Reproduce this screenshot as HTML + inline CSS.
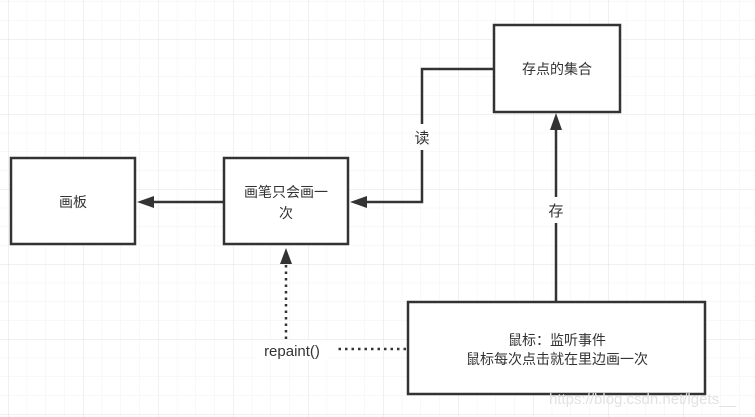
<!DOCTYPE html>
<html><head><meta charset="utf-8"><style>
html,body{margin:0;padding:0;background:#fff}
svg{display:block}
text{font-family:"Liberation Sans","Noto Sans CJK SC",sans-serif;fill:#333}
</style></head><body>
<svg width="755" height="417" xmlns="http://www.w3.org/2000/svg">
<defs>
<pattern id="minor" x="8" y="-36" width="18.75" height="18.75" patternUnits="userSpaceOnUse">
<path d="M0 0H18.75M0 0V18.75" stroke="#f0f0f0" stroke-width="1" fill="none"/>
</pattern>
<pattern id="major" x="8" y="-36" width="75" height="75" patternUnits="userSpaceOnUse">
<path d="M0 0H75M0 0V75" stroke="#e2e2e2" stroke-width="1" fill="none"/>
</pattern>
</defs>
<rect width="755" height="417" fill="#fff"/>
<rect width="755" height="417" fill="url(#minor)"/>
<rect width="755" height="417" fill="url(#major)"/>

<g stroke="#333" stroke-width="2.5" fill="#fff">
<rect x="11" y="158" width="124" height="86"/>
<rect x="224" y="158" width="124" height="86"/>
<rect x="494" y="25" width="126" height="87"/>
<rect x="408" y="302" width="297" height="92"/>
</g>

<g stroke="#333" stroke-width="2.5" fill="none">
<path d="M224 202H150"/>
<path d="M494 69H422V202H364"/>
<path d="M556 302V128"/>
</g>
<g fill="#333">
<path d="M137 202L154 196V208Z"/>
<path d="M350 202L367 196V208Z"/>
<path d="M556 113L550 130H562Z"/>
<path d="M286 248L280 264H292Z"/>
</g>
<g stroke="#333" stroke-width="2.5" stroke-dasharray="2.5 4" fill="none">
<path d="M286 339V264"/>
<path d="M406 349H337"/>
</g>

<rect x="413" y="124" width="18" height="26" fill="#fff"/>
<text x="422" y="143" font-size="15" text-anchor="middle">读</text>
<rect x="547" y="197" width="18" height="26" fill="#fff"/>
<text x="556" y="216" font-size="15" text-anchor="middle">存</text>
<rect x="256" y="340" width="72" height="20" fill="#fff"/>
<text x="292" y="356" font-size="15" text-anchor="middle">repaint()</text>

<g font-size="14" text-anchor="middle">
<text x="73" y="207">画板</text>
<text x="286" y="197">画笔只会画一</text>
<text x="286" y="218">次</text>
<text x="557" y="74">存点的集合</text>
<text x="557" y="345">鼠标：监听事件</text>
<text x="557" y="364">鼠标每次点击就在里边画一次</text>
</g>
<text x="549" y="404" font-size="15" fill="#e4e4e4" style="fill:#e2e2e2">https://blog.csdn.net/lgets__</text>
</svg>
</body></html>
